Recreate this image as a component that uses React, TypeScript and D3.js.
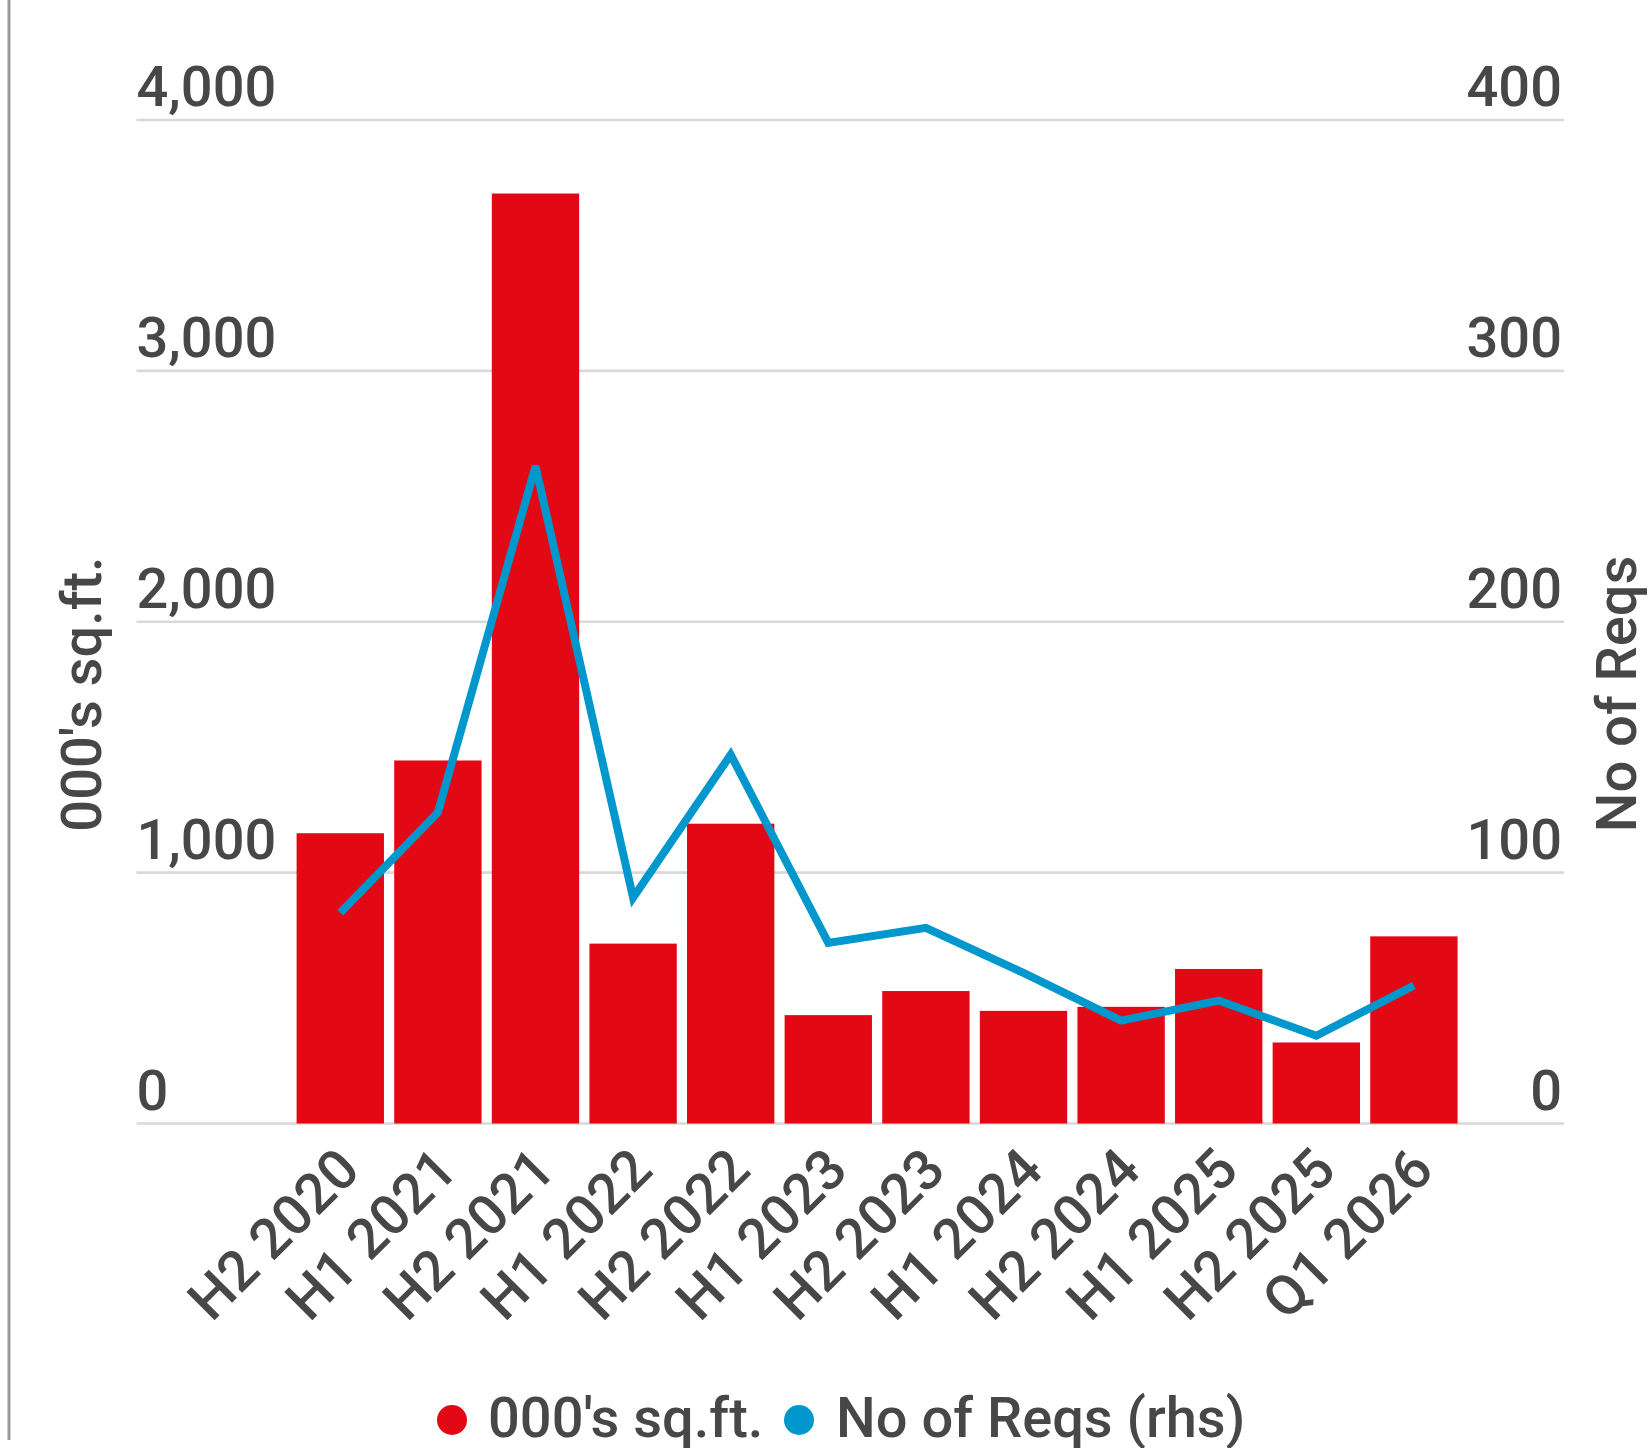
import * as d3 from "d3";

const categories = [
  "H2 2020",
  "H1 2021",
  "H2 2021",
  "H1 2022",
  "H2 2022",
  "H1 2023",
  "H2 2023",
  "H1 2024",
  "H2 2024",
  "H1 2025",
  "H2 2025",
  "Q1 2026",
];
const sqft = [1157, 1447, 3707, 717, 1195, 432, 528, 449, 465, 616, 323, 746];
const reqs = [84, 124, 262, 90, 147, 72, 78, 60, 41, 49, 35, 55];
const leftTicks = [0, 1000, 2000, 3000, 4000];
const rightTicks = [0, 100, 200, 300, 400];

const W = 1649;
const H = 1448;
const textColor = "#474747";
const red = "#e20915";
const blue = "#0097cc";
const font = "Roboto, 'Noto Sans', sans-serif";
const fs = 56;

export default function App() {
  const x = d3
    .scaleBand<string>()
    .domain(categories)
    .range([296.6, 1457.6])
    .paddingInner(0.105)
    .paddingOuter(0);

  const plotTop = 120;
  const plotBottom = 1123.5;
  const yLeft = d3.scaleLinear().domain([0, 4000]).range([plotBottom, plotTop]);
  const yRight = d3.scaleLinear().domain([0, 400]).range([plotBottom, plotTop]);
  const gridLeft = 136.5;
  const gridRight = 1564;

  const fmt = d3.format(",");

  const line = d3
    .line<number>()
    .x((_, i) => (x(categories[i]) as number) + x.bandwidth() / 2)
    .y((d) => yRight(d));

  return (
    <svg
      width={W}
      height={H}
      style={{ position: "absolute", left: 0, top: 0, background: "#fff" }}
      fontFamily={font}
      fontWeight={500}
    >
      {/* left border line */}
      <line x1={9} x2={9} y1={0} y2={1440} stroke="#9b9b9b" strokeWidth={3} />

      {/* grid */}
      {leftTicks.map((t) => (
        <line
          key={"g" + t}
          x1={gridLeft}
          x2={gridRight}
          y1={yLeft(t)}
          y2={yLeft(t)}
          stroke="#d9d9d9"
          strokeWidth={2.7}
        />
      ))}

      {/* left tick labels */}
      {leftTicks.map((t) => (
        <text
          key={"l" + t}
          x={gridLeft}
          y={yLeft(t) - 14}
          fontSize={fs}
          fill={textColor}
        >
          {fmt(t)}
        </text>
      ))}

      {/* right tick labels */}
      {rightTicks.map((t) => (
        <text
          key={"r" + t}
          x={1562}
          y={yRight(t) - 14}
          fontSize={fs}
          fill={textColor}
          textAnchor="end"
        >
          {fmt(t)}
        </text>
      ))}

      {/* bars */}
      {sqft.map((v, i) => (
        <rect
          key={"b" + i}
          x={x(categories[i])}
          y={yLeft(v)}
          width={x.bandwidth()}
          height={plotBottom - yLeft(v)}
          fill={red}
        />
      ))}

      {/* line */}
      <path
        d={line(reqs) || ""}
        fill="none"
        stroke={blue}
        strokeWidth={8}
        strokeLinejoin="miter"
      />

      {/* x labels */}
      {categories.map((c) => {
        const cx = (x(c) as number) + x.bandwidth() / 2 + 22;
        const cy = plotBottom + 49;
        return (
          <text
            key={"x" + c}
            transform={`translate(${cx},${cy}) rotate(-45)`}
            textAnchor="end"
            fontSize={fs}
            fill={textColor}
          >
            {c}
          </text>
        );
      })}

      {/* axis titles */}
      <text
        transform={`translate(101,694) rotate(-90)`}
        textAnchor="middle"
        fontSize={fs}
        fill={textColor}
      >
        000's sq.ft.
      </text>
      <text
        transform={`translate(1636,694) rotate(-90)`}
        textAnchor="middle"
        fontSize={fs}
        fill={textColor}
      >
        No of Reqs
      </text>

      {/* legend */}
      <circle cx={452} cy={1420} r={15} fill={red} />
      <text x={488} y={1437} fontSize={fs} fill={textColor}>
        000's sq.ft.
      </text>
      <circle cx={799} cy={1420} r={15} fill={blue} />
      <text x={836} y={1437} fontSize={fs} fill={textColor}>
        No of Reqs (rhs)
      </text>
    </svg>
  );
}
